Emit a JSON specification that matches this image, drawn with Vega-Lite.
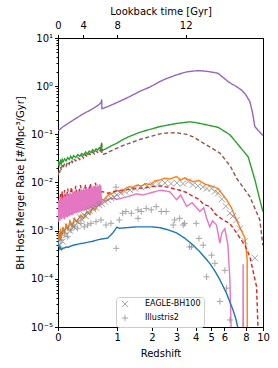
{
"$schema":"https://vega.github.io/schema/vega-lite/v6.json",
"width":205,"height":289,
"autosize":{"type":"none"},
"padding":{"left":58,"top":38,"right":15,"bottom":41},
"background":"white",
"config":{
 "font":"DejaVu Sans",
 "view":{"stroke":"black","strokeWidth":1},
 "axis":{"grid":false,"domainColor":"black","tickColor":"black","labelColor":"black","titleColor":"black","tickSize":3.5,"labelFontSize":10,"titleFontSize":10,"titleFontWeight":"normal","labelFont":"DejaVu Sans","titleFont":"DejaVu Sans","labelPadding":2,"labelFlush":false,"labelOverlap":false}
},
"data":{"values":[
{"s":"s1","zp1":1,"v":0.118},{"s":"s1","zp1":1.02,"v":0.125},{"s":"s1","zp1":1.05,"v":0.14},{"s":"s1","zp1":1.1,"v":0.158},{"s":"s1","zp1":1.15,"v":0.178},{"s":"s1","zp1":1.2,"v":0.2},{"s":"s1","zp1":1.26,"v":0.226},{"s":"s1","zp1":1.33,"v":0.26},{"s":"s1","zp1":1.42,"v":0.3},{"s":"s1","zp1":1.5,"v":0.34},{"s":"s1","zp1":1.58,"v":0.39},{"s":"s1","zp1":1.63,"v":0.43},{"s":"s1","zp1":1.66,"v":0.47},{"s":"s1","zp1":1.667,"v":0.53},{"s":"s1","zp1":1.672,"v":0.34},{"s":"s1","zp1":1.8,"v":0.38},{"s":"s1","zp1":2.0,"v":0.46},{"s":"s1","zp1":2.3,"v":0.6},{"s":"s1","zp1":2.6,"v":0.78},{"s":"s1","zp1":2.93,"v":0.96},{"s":"s1","zp1":3.3,"v":1.25},{"s":"s1","zp1":3.5,"v":1.4},{"s":"s1","zp1":4.0,"v":1.72},{"s":"s1","zp1":4.5,"v":1.98},{"s":"s1","zp1":5.0,"v":2.08},{"s":"s1","zp1":5.26,"v":2.09},{"s":"s1","zp1":5.6,"v":2.05},{"s":"s1","zp1":6.1,"v":1.95},{"s":"s1","zp1":6.5,"v":1.85},{"s":"s1","zp1":7.0,"v":1.45},{"s":"s1","zp1":7.3,"v":1.25},{"s":"s1","zp1":7.62,"v":1.12},{"s":"s1","zp1":8.0,"v":1.0},{"s":"s1","zp1":8.56,"v":0.83},{"s":"s1","zp1":9.0,"v":0.66},{"s":"s1","zp1":9.43,"v":0.48},{"s":"s1","zp1":9.7,"v":0.3},{"s":"s1","zp1":10.0,"v":0.145},{"s":"s1","zp1":10.4,"v":0.12},{"s":"s1","zp1":10.98,"v":0.095},

{"s":"s2","zp1":1.0,"v":0.022},{"s":"s2","zp1":1.01,"v":0.026},{"s":"s2","zp1":1.02,"v":0.023},{"s":"s2","zp1":1.03,"v":0.028},{"s":"s2","zp1":1.04,"v":0.025},{"s":"s2","zp1":1.05,"v":0.03},{"s":"s2","zp1":1.06,"v":0.027},{"s":"s2","zp1":1.08,"v":0.031},{"s":"s2","zp1":1.1,"v":0.028},{"s":"s2","zp1":1.12,"v":0.033},{"s":"s2","zp1":1.14,"v":0.03},{"s":"s2","zp1":1.16,"v":0.035},{"s":"s2","zp1":1.18,"v":0.031},{"s":"s2","zp1":1.2,"v":0.036},{"s":"s2","zp1":1.23,"v":0.033},{"s":"s2","zp1":1.26,"v":0.038},{"s":"s2","zp1":1.29,"v":0.035},{"s":"s2","zp1":1.32,"v":0.04},{"s":"s2","zp1":1.35,"v":0.037},{"s":"s2","zp1":1.38,"v":0.043},{"s":"s2","zp1":1.41,"v":0.039},{"s":"s2","zp1":1.44,"v":0.045},{"s":"s2","zp1":1.47,"v":0.042},{"s":"s2","zp1":1.5,"v":0.048},{"s":"s2","zp1":1.53,"v":0.044},{"s":"s2","zp1":1.56,"v":0.05},{"s":"s2","zp1":1.59,"v":0.047},{"s":"s2","zp1":1.62,"v":0.053},{"s":"s2","zp1":1.64,"v":0.05},{"s":"s2","zp1":1.66,"v":0.06},{"s":"s2","zp1":1.667,"v":0.067},{"s":"s2","zp1":1.672,"v":0.046},{"s":"s2","zp1":1.75,"v":0.05},{"s":"s2","zp1":1.85,"v":0.057},{"s":"s2","zp1":2.0,"v":0.066},{"s":"s2","zp1":2.1,"v":0.075},{"s":"s2","zp1":2.3,"v":0.09},{"s":"s2","zp1":2.6,"v":0.11},{"s":"s2","zp1":3.0,"v":0.13},{"s":"s2","zp1":3.3,"v":0.145},{"s":"s2","zp1":3.5,"v":0.152},{"s":"s2","zp1":4.0,"v":0.168},{"s":"s2","zp1":4.68,"v":0.182},{"s":"s2","zp1":5.0,"v":0.176},{"s":"s2","zp1":5.5,"v":0.162},{"s":"s2","zp1":6.5,"v":0.14},{"s":"s2","zp1":7.47,"v":0.098},{"s":"s2","zp1":8.0,"v":0.07},{"s":"s2","zp1":9.25,"v":0.034},{"s":"s2","zp1":10.0,"v":0.0115},{"s":"s2","zp1":10.6,"v":0.0044},{"s":"s2","zp1":10.98,"v":0.0025},

{"s":"s3","zp1":1.0,"v":0.014},{"s":"s3","zp1":1.01,"v":0.018},{"s":"s3","zp1":1.02,"v":0.016},{"s":"s3","zp1":1.03,"v":0.021},{"s":"s3","zp1":1.04,"v":0.018},{"s":"s3","zp1":1.05,"v":0.023},{"s":"s3","zp1":1.06,"v":0.02},{"s":"s3","zp1":1.08,"v":0.025},{"s":"s3","zp1":1.1,"v":0.022},{"s":"s3","zp1":1.12,"v":0.027},{"s":"s3","zp1":1.14,"v":0.024},{"s":"s3","zp1":1.16,"v":0.029},{"s":"s3","zp1":1.18,"v":0.026},{"s":"s3","zp1":1.2,"v":0.031},{"s":"s3","zp1":1.23,"v":0.028},{"s":"s3","zp1":1.26,"v":0.033},{"s":"s3","zp1":1.29,"v":0.03},{"s":"s3","zp1":1.32,"v":0.036},{"s":"s3","zp1":1.35,"v":0.032},{"s":"s3","zp1":1.38,"v":0.038},{"s":"s3","zp1":1.41,"v":0.034},{"s":"s3","zp1":1.44,"v":0.04},{"s":"s3","zp1":1.47,"v":0.037},{"s":"s3","zp1":1.5,"v":0.043},{"s":"s3","zp1":1.53,"v":0.039},{"s":"s3","zp1":1.56,"v":0.045},{"s":"s3","zp1":1.59,"v":0.042},{"s":"s3","zp1":1.62,"v":0.048},{"s":"s3","zp1":1.64,"v":0.045},{"s":"s3","zp1":1.66,"v":0.055},{"s":"s3","zp1":1.667,"v":0.062},{"s":"s3","zp1":1.672,"v":0.038},{"s":"s3","zp1":1.75,"v":0.04},{"s":"s3","zp1":1.85,"v":0.045},{"s":"s3","zp1":2.0,"v":0.052},{"s":"s3","zp1":2.1,"v":0.057},{"s":"s3","zp1":2.3,"v":0.065},{"s":"s3","zp1":2.6,"v":0.078},{"s":"s3","zp1":3.0,"v":0.092},{"s":"s3","zp1":3.3,"v":0.102},{"s":"s3","zp1":3.5,"v":0.106},{"s":"s3","zp1":4.0,"v":0.108},{"s":"s3","zp1":4.5,"v":0.1},{"s":"s3","zp1":4.86,"v":0.089},{"s":"s3","zp1":5.5,"v":0.065},{"s":"s3","zp1":6.64,"v":0.041},{"s":"s3","zp1":7.5,"v":0.022},{"s":"s3","zp1":8.07,"v":0.0123},{"s":"s3","zp1":9.43,"v":0.0051},{"s":"s3","zp1":10.6,"v":0.00167},{"s":"s3","zp1":10.98,"v":0.0005},

{"s":"s4","zp1":1.0,"v":0.0005},{"s":"s4","zp1":1.01,"v":0.0009},{"s":"s4","zp1":1.02,"v":0.0006},{"s":"s4","zp1":1.03,"v":0.0011},{"s":"s4","zp1":1.04,"v":0.0007},{"s":"s4","zp1":1.06,"v":0.0012},{"s":"s4","zp1":1.08,"v":0.0009},{"s":"s4","zp1":1.1,"v":0.0014},{"s":"s4","zp1":1.12,"v":0.001},{"s":"s4","zp1":1.15,"v":0.0016},{"s":"s4","zp1":1.18,"v":0.0012},{"s":"s4","zp1":1.21,"v":0.0018},{"s":"s4","zp1":1.25,"v":0.0015},{"s":"s4","zp1":1.3,"v":0.0021},{"s":"s4","zp1":1.35,"v":0.0018},{"s":"s4","zp1":1.4,"v":0.0025},{"s":"s4","zp1":1.45,"v":0.0022},{"s":"s4","zp1":1.5,"v":0.003},{"s":"s4","zp1":1.55,"v":0.0027},{"s":"s4","zp1":1.6,"v":0.0036},{"s":"s4","zp1":1.667,"v":0.0039},{"s":"s4","zp1":1.7,"v":0.0042},{"s":"s4","zp1":1.8,"v":0.0055},{"s":"s4","zp1":1.9,"v":0.006},{"s":"s4","zp1":2.0,"v":0.0068},{"s":"s4","zp1":2.1,"v":0.0062},{"s":"s4","zp1":2.2,"v":0.0075},{"s":"s4","zp1":2.3,"v":0.0082},{"s":"s4","zp1":2.4,"v":0.0078},{"s":"s4","zp1":2.5,"v":0.0088},{"s":"s4","zp1":2.66,"v":0.0085},{"s":"s4","zp1":2.8,"v":0.0095},{"s":"s4","zp1":2.95,"v":0.009},{"s":"s4","zp1":3.1,"v":0.0108},{"s":"s4","zp1":3.3,"v":0.0113},{"s":"s4","zp1":3.5,"v":0.0123},{"s":"s4","zp1":3.7,"v":0.0118},{"s":"s4","zp1":4.0,"v":0.0133},{"s":"s4","zp1":4.2,"v":0.0112},{"s":"s4","zp1":4.4,"v":0.0125},{"s":"s4","zp1":4.86,"v":0.0104},{"s":"s4","zp1":5.2,"v":0.011},{"s":"s4","zp1":5.6,"v":0.0092},{"s":"s4","zp1":6.14,"v":0.0082},{"s":"s4","zp1":6.5,"v":0.0075},{"s":"s4","zp1":7.18,"v":0.0044},{"s":"s4","zp1":7.6,"v":0.003},{"s":"s4","zp1":8.07,"v":0.00167},{"s":"s4","zp1":8.9,"v":0.0007},{"s":"s4","zp1":9.14,"v":0.00025},{"s":"s4","zp1":9.15,"v":0.000005},

{"s":"s5","zp1":1.0,"v":0.0025},{"s":"s5","zp1":1.01,"v":0.0045},{"s":"s5","zp1":1.02,"v":0.0028},{"s":"s5","zp1":1.03,"v":0.006},{"s":"s5","zp1":1.04,"v":0.003},{"s":"s5","zp1":1.05,"v":0.0065},{"s":"s5","zp1":1.06,"v":0.0032},{"s":"s5","zp1":1.08,"v":0.007},{"s":"s5","zp1":1.1,"v":0.0035},{"s":"s5","zp1":1.12,"v":0.0075},{"s":"s5","zp1":1.14,"v":0.0038},{"s":"s5","zp1":1.17,"v":0.008},{"s":"s5","zp1":1.2,"v":0.004},{"s":"s5","zp1":1.23,"v":0.0085},{"s":"s5","zp1":1.26,"v":0.0042},{"s":"s5","zp1":1.3,"v":0.0088},{"s":"s5","zp1":1.34,"v":0.0045},{"s":"s5","zp1":1.38,"v":0.009},{"s":"s5","zp1":1.42,"v":0.0048},{"s":"s5","zp1":1.46,"v":0.0095},{"s":"s5","zp1":1.5,"v":0.005},{"s":"s5","zp1":1.55,"v":0.0098},{"s":"s5","zp1":1.6,"v":0.0052},{"s":"s5","zp1":1.667,"v":0.0065},{"s":"s5","zp1":1.8,"v":0.006},{"s":"s5","zp1":2.0,"v":0.0068},{"s":"s5","zp1":2.2,"v":0.007},{"s":"s5","zp1":2.5,"v":0.0075},{"s":"s5","zp1":2.8,"v":0.0078},{"s":"s5","zp1":3.0,"v":0.0082},{"s":"s5","zp1":3.3,"v":0.0085},{"s":"s5","zp1":3.6,"v":0.008},{"s":"s5","zp1":4.16,"v":0.0069},{"s":"s5","zp1":4.5,"v":0.0062},{"s":"s5","zp1":4.86,"v":0.0051},{"s":"s5","zp1":5.2,"v":0.0045},{"s":"s5","zp1":5.5,"v":0.0035},{"s":"s5","zp1":5.9,"v":0.0032},{"s":"s5","zp1":6.3,"v":0.0022},{"s":"s5","zp1":6.9,"v":0.00167},{"s":"s5","zp1":7.47,"v":0.0014},{"s":"s5","zp1":8.07,"v":0.0009},{"s":"s5","zp1":8.9,"v":0.0005},{"s":"s5","zp1":9.43,"v":0.00029},{"s":"s5","zp1":10.2,"v":0.000069},{"s":"s5","zp1":10.39,"v":0.000008},

{"s":"s6","zp1":1.0,"v":0.0015},{"s":"s6","zp1":1.01,"v":0.0042},{"s":"s6","zp1":1.02,"v":0.0016},{"s":"s6","zp1":1.03,"v":0.005},{"s":"s6","zp1":1.04,"v":0.0017},{"s":"s6","zp1":1.05,"v":0.0047},{"s":"s6","zp1":1.06,"v":0.0018},{"s":"s6","zp1":1.07,"v":0.0055},{"s":"s6","zp1":1.08,"v":0.0017},{"s":"s6","zp1":1.09,"v":0.0052},{"s":"s6","zp1":1.1,"v":0.0019},{"s":"s6","zp1":1.11,"v":0.006},{"s":"s6","zp1":1.12,"v":0.0019},{"s":"s6","zp1":1.13,"v":0.0056},{"s":"s6","zp1":1.14,"v":0.002},{"s":"s6","zp1":1.15,"v":0.0063},{"s":"s6","zp1":1.16,"v":0.0021},{"s":"s6","zp1":1.17,"v":0.0058},{"s":"s6","zp1":1.18,"v":0.0021},{"s":"s6","zp1":1.19,"v":0.0066},{"s":"s6","zp1":1.2,"v":0.0022},{"s":"s6","zp1":1.21,"v":0.0061},{"s":"s6","zp1":1.22,"v":0.0023},{"s":"s6","zp1":1.23,"v":0.0068},{"s":"s6","zp1":1.24,"v":0.0023},{"s":"s6","zp1":1.25,"v":0.0064},{"s":"s6","zp1":1.26,"v":0.0024},{"s":"s6","zp1":1.27,"v":0.0071},{"s":"s6","zp1":1.28,"v":0.0024},{"s":"s6","zp1":1.29,"v":0.0066},{"s":"s6","zp1":1.3,"v":0.0025},{"s":"s6","zp1":1.31,"v":0.0073},{"s":"s6","zp1":1.32,"v":0.0025},{"s":"s6","zp1":1.33,"v":0.0069},{"s":"s6","zp1":1.34,"v":0.0026},{"s":"s6","zp1":1.35,"v":0.0076},{"s":"s6","zp1":1.36,"v":0.0026},{"s":"s6","zp1":1.37,"v":0.0071},{"s":"s6","zp1":1.38,"v":0.0027},{"s":"s6","zp1":1.39,"v":0.0078},{"s":"s6","zp1":1.4,"v":0.0027},{"s":"s6","zp1":1.41,"v":0.0073},{"s":"s6","zp1":1.42,"v":0.0028},{"s":"s6","zp1":1.43,"v":0.008},{"s":"s6","zp1":1.44,"v":0.0028},{"s":"s6","zp1":1.45,"v":0.0075},{"s":"s6","zp1":1.46,"v":0.0029},{"s":"s6","zp1":1.47,"v":0.0083},{"s":"s6","zp1":1.48,"v":0.0029},{"s":"s6","zp1":1.49,"v":0.0078},{"s":"s6","zp1":1.5,"v":0.003},{"s":"s6","zp1":1.51,"v":0.0085},{"s":"s6","zp1":1.52,"v":0.003},{"s":"s6","zp1":1.53,"v":0.008},{"s":"s6","zp1":1.54,"v":0.0031},{"s":"s6","zp1":1.55,"v":0.0088},{"s":"s6","zp1":1.56,"v":0.0031},{"s":"s6","zp1":1.57,"v":0.0082},{"s":"s6","zp1":1.58,"v":0.0032},{"s":"s6","zp1":1.59,"v":0.009},{"s":"s6","zp1":1.6,"v":0.0032},{"s":"s6","zp1":1.61,"v":0.0084},{"s":"s6","zp1":1.62,"v":0.0033},{"s":"s6","zp1":1.63,"v":0.0092},{"s":"s6","zp1":1.64,"v":0.0034},{"s":"s6","zp1":1.65,"v":0.0086},{"s":"s6","zp1":1.66,"v":0.004},{"s":"s6","zp1":1.667,"v":0.0045},{"s":"s6","zp1":1.75,"v":0.0042},{"s":"s6","zp1":1.85,"v":0.0047},{"s":"s6","zp1":2.0,"v":0.0045},{"s":"s6","zp1":2.1,"v":0.0047},{"s":"s6","zp1":2.3,"v":0.0052},{"s":"s6","zp1":2.5,"v":0.0058},{"s":"s6","zp1":2.7,"v":0.0055},{"s":"s6","zp1":3.0,"v":0.0062},{"s":"s6","zp1":3.3,"v":0.0069},{"s":"s6","zp1":3.5,"v":0.0067},{"s":"s6","zp1":3.7,"v":0.0064},{"s":"s6","zp1":4.0,"v":0.0044},{"s":"s6","zp1":4.2,"v":0.0055},{"s":"s6","zp1":4.5,"v":0.0032},{"s":"s6","zp1":4.8,"v":0.0038},{"s":"s6","zp1":5.26,"v":0.0025},{"s":"s6","zp1":5.5,"v":0.003},{"s":"s6","zp1":5.69,"v":0.0018},{"s":"s6","zp1":5.9,"v":0.0012},{"s":"s6","zp1":6.1,"v":0.0016},{"s":"s6","zp1":6.39,"v":0.0013},{"s":"s6","zp1":6.64,"v":0.00055},{"s":"s6","zp1":6.8,"v":0.0009},{"s":"s6","zp1":7.04,"v":0.0011},{"s":"s6","zp1":7.3,"v":0.0005},{"s":"s6","zp1":7.47,"v":0.000096},{"s":"s6","zp1":7.6,"v":0.000005},{"s":"s6","zp1":8.7,"v":0.000005},{"s":"s6","zp1":8.72,"v":0.0002},{"s":"s6","zp1":8.74,"v":0.000005},

{"s":"s7","zp1":1.0,"v":0.00065},{"s":"s7","zp1":1.01,"v":0.0005},{"s":"s7","zp1":1.02,"v":0.00042},{"s":"s7","zp1":1.03,"v":0.00045},{"s":"s7","zp1":1.04,"v":0.0004},{"s":"s7","zp1":1.06,"v":0.00043},{"s":"s7","zp1":1.08,"v":0.00044},{"s":"s7","zp1":1.1,"v":0.00046},{"s":"s7","zp1":1.13,"v":0.00045},{"s":"s7","zp1":1.16,"v":0.00048},{"s":"s7","zp1":1.2,"v":0.0005},{"s":"s7","zp1":1.25,"v":0.00052},{"s":"s7","zp1":1.3,"v":0.00054},{"s":"s7","zp1":1.35,"v":0.00055},{"s":"s7","zp1":1.42,"v":0.00058},{"s":"s7","zp1":1.5,"v":0.0006},{"s":"s7","zp1":1.6,"v":0.00065},{"s":"s7","zp1":1.7,"v":0.00068},{"s":"s7","zp1":1.79,"v":0.0007},{"s":"s7","zp1":1.9,"v":0.0009},{"s":"s7","zp1":1.99,"v":0.00118},{"s":"s7","zp1":2.05,"v":0.00112},{"s":"s7","zp1":2.2,"v":0.00115},{"s":"s7","zp1":2.5,"v":0.0012},{"s":"s7","zp1":3.0,"v":0.0012},{"s":"s7","zp1":3.3,"v":0.00115},{"s":"s7","zp1":3.6,"v":0.00105},{"s":"s7","zp1":4.0,"v":0.0009},{"s":"s7","zp1":4.4,"v":0.0007},{"s":"s7","zp1":4.86,"v":0.0005},{"s":"s7","zp1":5.3,"v":0.00035},{"s":"s7","zp1":5.9,"v":0.00021},{"s":"s7","zp1":6.3,"v":0.00014},{"s":"s7","zp1":6.64,"v":0.000096},{"s":"s7","zp1":7.18,"v":0.00005},{"s":"s7","zp1":7.76,"v":0.000022},{"s":"s7","zp1":8.0,"v":0.000015},{"s":"s7","zp1":8.23,"v":0.000009},

{"s":"EAGLE-BH100","zp1":1.0118,"v":0.00075},{"s":"EAGLE-BH100","zp1":1.0236,"v":0.0005},{"s":"EAGLE-BH100","zp1":1.0357,"v":0.0009},{"s":"EAGLE-BH100","zp1":1.054,"v":0.0006},{"s":"EAGLE-BH100","zp1":1.0726,"v":0.001},{"s":"EAGLE-BH100","zp1":1.098,"v":0.0008},{"s":"EAGLE-BH100","zp1":1.124,"v":0.0012},{"s":"EAGLE-BH100","zp1":1.1505,"v":0.001},{"s":"EAGLE-BH100","zp1":1.178,"v":0.0014},{"s":"EAGLE-BH100","zp1":1.206,"v":0.0012},{"s":"EAGLE-BH100","zp1":1.234,"v":0.0016},{"s":"EAGLE-BH100","zp1":1.263,"v":0.0015},{"s":"EAGLE-BH100","zp1":1.293,"v":0.0019},{"s":"EAGLE-BH100","zp1":1.324,"v":0.0017},{"s":"EAGLE-BH100","zp1":1.355,"v":0.0021},{"s":"EAGLE-BH100","zp1":1.387,"v":0.002},{"s":"EAGLE-BH100","zp1":1.419,"v":0.0024},{"s":"EAGLE-BH100","zp1":1.453,"v":0.0026},{"s":"EAGLE-BH100","zp1":1.505,"v":0.0028},{"s":"EAGLE-BH100","zp1":1.56,"v":0.003},{"s":"EAGLE-BH100","zp1":1.615,"v":0.0034},{"s":"EAGLE-BH100","zp1":1.673,"v":0.0036},{"s":"EAGLE-BH100","zp1":1.732,"v":0.004},{"s":"EAGLE-BH100","zp1":1.794,"v":0.0043},{"s":"EAGLE-BH100","zp1":1.858,"v":0.0048},{"s":"EAGLE-BH100","zp1":1.924,"v":0.005},{"s":"EAGLE-BH100","zp1":1.993,"v":0.0055},{"s":"EAGLE-BH100","zp1":2.088,"v":0.006},{"s":"EAGLE-BH100","zp1":2.188,"v":0.0065},{"s":"EAGLE-BH100","zp1":2.32,"v":0.007},{"s":"EAGLE-BH100","zp1":2.46,"v":0.0075},{"s":"EAGLE-BH100","zp1":2.638,"v":0.008},{"s":"EAGLE-BH100","zp1":2.83,"v":0.0085},{"s":"EAGLE-BH100","zp1":3.035,"v":0.009},{"s":"EAGLE-BH100","zp1":3.257,"v":0.0095},{"s":"EAGLE-BH100","zp1":3.493,"v":0.0098},{"s":"EAGLE-BH100","zp1":3.747,"v":0.0095},{"s":"EAGLE-BH100","zp1":4.018,"v":0.0098},{"s":"EAGLE-BH100","zp1":4.311,"v":0.0095},{"s":"EAGLE-BH100","zp1":4.586,"v":0.0105},{"s":"EAGLE-BH100","zp1":4.845,"v":0.009},{"s":"EAGLE-BH100","zp1":5.136,"v":0.0085},{"s":"EAGLE-BH100","zp1":5.445,"v":0.008},{"s":"EAGLE-BH100","zp1":5.706,"v":0.0075},{"s":"EAGLE-BH100","zp1":6.028,"v":0.0076},{"s":"EAGLE-BH100","zp1":6.266,"v":0.0065},{"s":"EAGLE-BH100","zp1":6.512,"v":0.006},{"s":"EAGLE-BH100","zp1":6.8,"v":0.0045},{"s":"EAGLE-BH100","zp1":7.126,"v":0.0032},{"s":"EAGLE-BH100","zp1":7.467,"v":0.0023},{"s":"EAGLE-BH100","zp1":7.733,"v":0.002},{"s":"EAGLE-BH100","zp1":8.074,"v":0.00167},{"s":"EAGLE-BH100","zp1":8.392,"v":0.0011},{"s":"EAGLE-BH100","zp1":8.896,"v":0.0006},{"s":"EAGLE-BH100","zp1":10.0,"v":0.00027},

{"s":"Illustris2","zp1":1.036,"v":0.00064},{"s":"Illustris2","zp1":1.076,"v":0.00088},{"s":"Illustris2","zp1":1.12,"v":0.00075},{"s":"Illustris2","zp1":1.164,"v":0.00103},{"s":"Illustris2","zp1":1.21,"v":0.00121},{"s":"Illustris2","zp1":1.259,"v":0.00112},{"s":"Illustris2","zp1":1.308,"v":0.00142},{"s":"Illustris2","zp1":1.36,"v":0.0012},{"s":"Illustris2","zp1":1.415,"v":0.00131},{"s":"Illustris2","zp1":1.471,"v":0.00142},{"s":"Illustris2","zp1":1.56,"v":0.00154},{"s":"Illustris2","zp1":1.653,"v":0.00167},{"s":"Illustris2","zp1":1.753,"v":0.00131},{"s":"Illustris2","zp1":1.858,"v":0.00142},{"s":"Illustris2","zp1":1.97,"v":0.008},{"s":"Illustris2","zp1":1.975,"v":0.00043},{"s":"Illustris2","zp1":2.047,"v":0.00167},{"s":"Illustris2","zp1":2.13,"v":0.0023},{"s":"Illustris2","zp1":2.214,"v":0.0025},{"s":"Illustris2","zp1":2.356,"v":0.0023},{"s":"Illustris2","zp1":2.547,"v":0.0027},{"s":"Illustris2","zp1":2.55,"v":0.0018},{"s":"Illustris2","zp1":2.65,"v":0.0025},{"s":"Illustris2","zp1":2.807,"v":0.0029},{"s":"Illustris2","zp1":2.976,"v":0.0027},{"s":"Illustris2","zp1":3.155,"v":0.00315},{"s":"Illustris2","zp1":3.345,"v":0.0025},{"s":"Illustris2","zp1":3.546,"v":0.0025},{"s":"Illustris2","zp1":3.848,"v":0.00131},{"s":"Illustris2","zp1":3.912,"v":0.00167},{"s":"Illustris2","zp1":4.148,"v":0.0018},{"s":"Illustris2","zp1":4.326,"v":0.00131},{"s":"Illustris2","zp1":4.397,"v":0.00142},{"s":"Illustris2","zp1":4.662,"v":0.00046},{"s":"Illustris2","zp1":4.772,"v":0.00046},{"s":"Illustris2","zp1":5.036,"v":0.00142},{"s":"Illustris2","zp1":5.197,"v":0.00069},{"s":"Illustris2","zp1":5.466,"v":0.0005},{"s":"Illustris2","zp1":5.687,"v":0.00011},{"s":"Illustris2","zp1":6.028,"v":0.00031},{"s":"Illustris2","zp1":6.266,"v":0.00021},{"s":"Illustris2","zp1":6.643,"v":0.000034},{"s":"Illustris2","zp1":7.043,"v":0.00015},{"s":"Illustris2","zp1":7.184,"v":0.000064},{"s":"Illustris2","zp1":7.467,"v":0.000014}
]},
"layer":[
 {"transform":[{"filter":"indexof(['s1','s2','s3','s4','s5','s6','s7'], datum.s) >= 0"}],
  "mark":{"type":"line","clip":true,"strokeWidth":1.4},
  "encoding":{
   "x":{"field":"zp1","type":"quantitative","scale":{"type":"log","domain":[1,11],"nice":false},
        "axis":{"orient":"bottom","title":"Redshift","values":[1,2,3,4,5,6,7,9,11],"labelExpr":"format(datum.value-1,'d')","titlePadding":6}},
   "y":{"field":"v","type":"quantitative","scale":{"type":"log","domain":[0.00001,10],"nice":false},
        "axis":{"orient":"left","title":"BH Host Merger Rate [#/Mpc³/Gyr]","values":[0.00001,0.0001,0.001,0.01,0.1,1,10],
        "labelExpr":"datum.value < 5e-5 ? '10⁻⁵' : datum.value < 5e-4 ? '10⁻⁴' : datum.value < 5e-3 ? '10⁻³' : datum.value < 5e-2 ? '10⁻²' : datum.value < 0.5 ? '10⁻¹' : datum.value < 5 ? '10⁰' : '10¹'","titlePadding":5}},
   "color":{"field":"s","type":"nominal","scale":{"domain":["s1","s2","s3","s4","s5","s6","s7"],"range":["#9467bd","#2ca02c","#8c564b","#ff7f0e","#d62728","#e377c2","#1f77b4"]},"legend":null},
   "strokeDash":{"field":"s","type":"nominal","scale":{"domain":["s1","s2","s3","s4","s5","s6","s7"],"range":[[1,0],[1,0],[4,2.5],[1,0],[4,2.5],[1,0],[1,0]]},"legend":null}
  }},
 {"transform":[{"filter":"datum.s == 'EAGLE-BH100' || datum.s == 'Illustris2'"}],
  "mark":{"type":"point","filled":false,"color":"#808080","strokeWidth":1,"size":40,"clip":true},
  "encoding":{
   "x":{"field":"zp1","type":"quantitative","scale":{"type":"log","domain":[1,11],"nice":false},"axis":null},
   "y":{"field":"v","type":"quantitative","scale":{"type":"log","domain":[0.00001,10],"nice":false},"axis":null},
   "shape":{"field":"s","type":"nominal","scale":{"domain":["EAGLE-BH100","Illustris2"],"range":["M-1,-1L1,1M-1,1L1,-1","M-1,0L1,0M0,-1L0,1"]},
     "legend":{"title":null,"orient":"none","legendX":58,"legendY":259,"labelFontSize":8,"labelColor":"black","symbolSize":40,"symbolStrokeWidth":1,"symbolStrokeColor":"#808080","symbolFillColor":"transparent","padding":3,"rowPadding":2,"labelOffset":16,"symbolOffset":2,"strokeColor":"#cccccc","fillColor":"rgba(255,255,255,0.8)","cornerRadius":3}}
  }},
 {"transform":[{"filter":"datum.s == 's1'"}],
  "mark":{"type":"rule","opacity":0},
  "encoding":{
   "x":{"field":"zp1","type":"quantitative","scale":{"type":"log","domain":[1,11],"nice":false},
        "axis":{"orient":"top","title":"Lookback time [Gyr]","values":[1,1.344,2.0,4.45],"labelExpr":"datum.value < 1.1 ? '0' : datum.value < 1.6 ? '4' : datum.value < 3 ? '8' : '12'","labelPadding":4,"titlePadding":4}}
  }},
 {"transform":[{"filter":"datum.s == 's1'"}],
  "mark":{"type":"rule","opacity":0},
  "encoding":{
   "y":{"field":"v","type":"quantitative","scale":{"type":"log","domain":[0.00001,10],"nice":false},
        "axis":{"orient":"left","title":null,"labels":false,"tickSize":2,"domain":false,
        "values":[0.00002,0.00003,0.00004,0.00005,0.00006,0.00007,0.00008,0.00009,0.0002,0.0003,0.0004,0.0005,0.0006,0.0007,0.0008,0.0009,0.002,0.003,0.004,0.005,0.006,0.007,0.008,0.009,0.02,0.03,0.04,0.05,0.06,0.07,0.08,0.09,0.2,0.3,0.4,0.5,0.6,0.7,0.8,0.9,2,3,4,5,6,7,8,9]}}
  }}
],
"resolve":{"axis":{"x":"independent","y":"independent"}}
}
